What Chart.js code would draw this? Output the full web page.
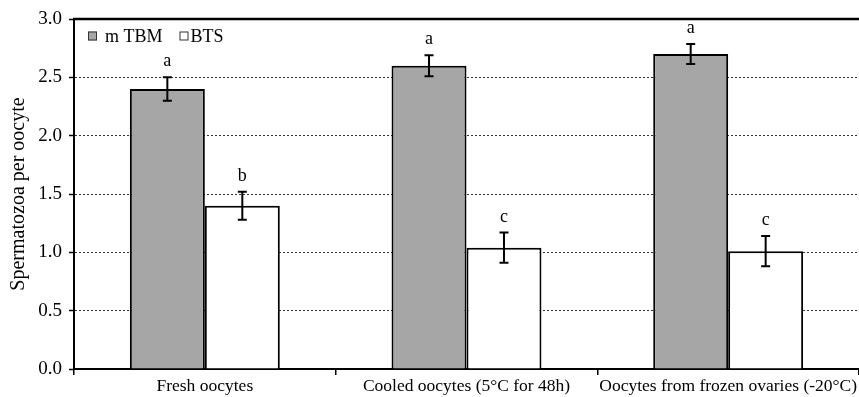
<!DOCTYPE html>
<html>
<head>
<meta charset="utf-8">
<script src="https://cdn.jsdelivr.net/npm/chart.js@4"></script>
<style>
  html, body { margin: 0; padding: 0; background: #fff; }
  #wrap { width: 859px; height: 397px; }
</style>
</head>
<body>
<div id="wrap"><canvas id="chart" width="859" height="397"></canvas></div>
<script>
// data
const categories = ['Fresh oocytes', 'Cooled oocytes (5°C for 48h)', 'Oocytes from frozen ovaries (-20°C)'];
const seriesNames = ['m TBM', 'BTS'];
const tbmValues = [2.40, 2.60, 2.70];
const tbmErrors = [0.10, 0.09, 0.085];
const tbmLetters = ['a', 'a', 'a'];
const btsValues = [1.40, 1.04, 1.01];
const btsErrors = [0.12, 0.13, 0.13];
const btsLetters = ['b', 'c', 'c'];
const yTicks = [0, 0.5, 1.0, 1.5, 2.0, 2.5, 3.0];

const FONT = "'Liberation Serif', 'Times New Roman', serif";

// error bars + letters above them
const errorBarPlugin = {
    id: 'errorBars',
    afterDatasetsDraw(chart) {
        const ctx = chart.ctx;
        const yScale = chart.scales.y;
        ctx.save();
        chart.data.datasets.forEach((ds, di) => {
            const meta = chart.getDatasetMeta(di);
            meta.data.forEach((bar, i) => {
                const v = ds.data[i];
                const e = ds.errors[i];
                const top = yScale.getPixelForValue(v + e);
                const bot = yScale.getPixelForValue(v - e);
                ctx.strokeStyle = '#000';
                ctx.lineWidth = 2;
                ctx.beginPath();
                ctx.moveTo(bar.x, top);
                ctx.lineTo(bar.x, bot);
                ctx.moveTo(bar.x - 4.5, top);
                ctx.lineTo(bar.x + 4.5, top);
                ctx.moveTo(bar.x - 4.5, bot);
                ctx.lineTo(bar.x + 4.5, bot);
                ctx.stroke();

                ctx.fillStyle = '#000';
                ctx.font = '18px ' + FONT;
                ctx.textAlign = 'center';
                ctx.textBaseline = 'alphabetic';
                ctx.fillText(ds.letters[i], bar.x, top - 11);
            });
        });
        ctx.restore();
    }
};

// top frame line and the legend inside the plot
const framePlugin = {
    id: 'frame',
    afterDraw(chart) {
        const ctx = chart.ctx;
        const area = chart.chartArea;
        ctx.save();
        ctx.strokeStyle = '#000';
        ctx.lineWidth = 2.5;
        ctx.beginPath();
        ctx.moveTo(area.left - 1, area.top);
        ctx.lineTo(area.right, area.top);
        ctx.stroke();

        // legend
        const ly = area.top + 17;
        let lx = area.left + 14;
        ctx.font = '18px ' + FONT;
        ctx.textBaseline = 'middle';
        ctx.textAlign = 'left';
        chart.data.datasets.forEach((ds, di) => {
            ctx.fillStyle = ds.backgroundColor;
            ctx.fillRect(lx, ly - 4.5, 9, 9);
            ctx.lineWidth = 1;
            ctx.strokeStyle = '#333';
            ctx.strokeRect(lx + 0.5, ly - 4, 8, 8);
            ctx.fillStyle = '#000';
            const gap = di === 0 ? 17 : 11;
            ctx.fillText(ds.label, lx + gap, ly + 1);
            lx += gap + ctx.measureText(ds.label).width + 17;
        });
        ctx.restore();
    }
};

const ctx = document.getElementById('chart').getContext('2d');
new Chart(ctx, {
    type: 'bar',
    data: {
        labels: categories,
        datasets: [
            {
                label: seriesNames[0],
                data: tbmValues,
                errors: tbmErrors,
                letters: tbmLetters,
                backgroundColor: '#a6a6a6',
                borderColor: '#000',
                borderWidth: 2
            },
            {
                label: seriesNames[1],
                data: btsValues,
                errors: btsErrors,
                letters: btsLetters,
                backgroundColor: '#ffffff',
                borderColor: '#000',
                borderWidth: 2
            }
        ]
    },
    options: {
        responsive: false,
        animation: false,
        devicePixelRatio: 1,
        layout: { padding: { top: 19, right: 0, left: 0, bottom: 0 } },
        plugins: {
            legend: { display: false },
            tooltip: { enabled: false }
        },
        datasets: {
            bar: { categoryPercentage: 0.573, barPercentage: 1.0 }
        },
        scales: {
            x: {
                grid: {
                    display: true,
                    drawOnChartArea: false,
                    tickLength: 6,
                    color: '#000',
                    lineWidth: 1.5
                },
                border: { display: true, color: '#000', width: 2 },
                ticks: {
                    color: '#000',
                    font: { family: FONT, size: 17.5 },
                    padding: 1,
                    maxRotation: 0,
                    autoSkip: false
                },
                afterFit(scale) { scale.height = 28; }
            },
            y: {
                min: 0,
                max: 3,
                afterBuildTicks(scale) {
                    scale.ticks = yTicks.map(v => ({ value: v }));
                },
                grid: {
                    color: '#333',
                    lineWidth: 1,
                    tickLength: 5,
                    tickColor: '#000',
                    tickWidth: 1.5
                },
                border: { display: true, color: '#000', width: 2, dash: [2, 2] },
                ticks: {
                    color: '#000',
                    font: { family: FONT, size: 19 },
                    padding: 7,
                    callback: (v) => Number(v).toFixed(1)
                },
                title: {
                    display: true,
                    text: 'Spermatozoa per oocyte',
                    color: '#000',
                    font: { family: FONT, size: 20 },
                    padding: { top: 7, bottom: 0 }
                },
                afterFit(scale) { scale.width = 74; }
            }
        }
    },
    plugins: [errorBarPlugin, framePlugin]
});
</script>
</body>
</html>
